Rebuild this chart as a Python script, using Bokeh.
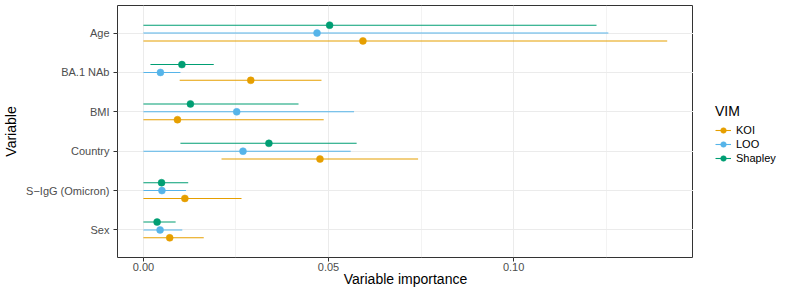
from bokeh.plotting import figure
from bokeh.layouts import row
from bokeh.models import (ColumnDataSource, FactorRange, Range1d, FixedTicker,
                          PrintfTickFormatter, Legend, LegendItem)
from bokeh.transform import dodge
from bokeh.embed import file_html
from bokeh.resources import INLINE

# ---- data ----
variables = ["Age", "BA.1 NAb", "BMI", "Country", "S\u2212IgG (Omicron)", "Sex"]

koi_est = [0.0593, 0.0290, 0.0092, 0.0477, 0.0112, 0.0071]
koi_lo = [0.0000, 0.0098, 0.0000, 0.0211, 0.0000, 0.0000]
koi_hi = [0.1415, 0.0481, 0.0487, 0.0742, 0.0265, 0.0163]

loo_est = [0.0469, 0.0046, 0.0252, 0.0269, 0.0050, 0.0045]
loo_lo = [0.0000, 0.0000, 0.0000, 0.0000, 0.0000, 0.0000]
loo_hi = [0.1256, 0.0100, 0.0569, 0.0560, 0.0115, 0.0105]

shap_est = [0.0503, 0.0104, 0.0127, 0.0339, 0.0049, 0.0037]
shap_lo = [0.0000, 0.0019, 0.0000, 0.0100, 0.0000, 0.0000]
shap_hi = [0.1224, 0.0190, 0.0419, 0.0576, 0.0121, 0.0087]

x_ticks = [0.0, 0.05, 0.10]
x_minor = [0.025, 0.075, 0.125]

series = [
    ("KOI", "#E69F00", koi_est, koi_lo, koi_hi, -0.2),
    ("LOO", "#56B4E9", loo_est, loo_lo, loo_hi, 0.0),
    ("Shapley", "#009E73", shap_est, shap_lo, shap_hi, 0.2),
]

FONT = "Liberation Sans"
H = 289

y_range = FactorRange(factors=list(reversed(variables)),
                      range_padding=0.2, range_padding_units="absolute")

p = figure(width=693, height=H, y_range=y_range, x_range=Range1d(-0.0070, 0.1486),
           output_backend="svg", toolbar_location=None,
           min_border_left=117, min_border_right=0,
           min_border_top=5, min_border_bottom=30)

p.background_fill_color = "white"
p.border_fill_color = "white"
p.outline_line_color = "#333333"
p.outline_line_width = 1

p.xaxis.ticker = FixedTicker(ticks=x_ticks, minor_ticks=x_minor)
p.xaxis.formatter = PrintfTickFormatter(format="%.2f")

for ax in (p.xaxis[0], p.yaxis[0]):
    ax.axis_line_color = None
    ax.major_tick_line_color = "#333333"
    ax.major_tick_out = 4
    ax.major_tick_in = 0
    ax.minor_tick_line_color = None
    ax.major_label_text_font = FONT
    ax.major_label_text_font_size = "11px"
    ax.major_label_text_color = "#4D4D4D"
    ax.major_label_text_line_height = 1.0
    ax.axis_label_text_font = FONT
    ax.axis_label_text_font_size = "14px"
    ax.axis_label_text_font_style = "normal"
    ax.axis_label_text_color = "black"
    ax.axis_label_text_line_height = 1.0

p.xaxis.major_label_standoff = 1
p.xaxis.axis_label_standoff = -3
p.yaxis.major_label_standoff = 4
p.yaxis.axis_label_standoff = 4

p.xaxis.axis_label = "Variable importance"
p.yaxis.axis_label = "Variable"

p.xgrid.grid_line_color = "#EBEBEB"
p.xgrid.grid_line_width = 1
p.xgrid.minor_grid_line_color = "#EBEBEB"
p.xgrid.minor_grid_line_width = 0.6
p.ygrid.grid_line_color = "#EBEBEB"
p.ygrid.grid_line_width = 1

# legend lives in a small companion figure to the right of the panel
q = figure(width=84, height=H, output_backend="svg", toolbar_location=None,
           x_axis_type=None, y_axis_type=None, min_border=0,
           x_range=Range1d(0, 1), y_range=Range1d(0, 1))
q.outline_line_color = None
q.background_fill_color = "white"
q.border_fill_color = "white"
q.grid.visible = False

items = []
for name, color, est, lo, hi, off in series:
    src = ColumnDataSource(dict(var=variables, est=est, lo=lo, hi=hi))
    yy = dodge("var", off, range=p.y_range)
    p.segment(x0="lo", x1="hi", y0=yy, y1=yy, source=src,
              line_color=color, line_width=1.1)
    p.scatter(x="est", y=yy, source=src, size=7, marker="circle",
              fill_color=color, line_color=color, line_width=0.5)
    # key glyphs only: one point placed outside the legend figure's view
    key_src = ColumnDataSource(dict(x0=[5.0], x1=[6.0], y=[5.0]))
    ks = q.segment(x0="x0", x1="x1", y0="y", y1="y", source=key_src,
                   line_color=color, line_width=1.1)
    kp = q.scatter(x="x0", y="y", source=key_src, size=7, marker="circle",
                   fill_color=color, line_color=color, line_width=0.5)
    items.append(LegendItem(label=name, renderers=[ks, kp]))

legend = Legend(items=items, location=(22, 92), title="VIM",
                title_text_font=FONT, title_text_font_size="14px",
                title_text_font_style="normal", title_text_color="black",
                title_standoff=4,
                label_text_font=FONT, label_text_font_size="11px",
                label_text_color="black",
                glyph_width=16, glyph_height=14, label_height=14,
                label_standoff=5, spacing=0, padding=0, margin=0,
                border_line_color=None, background_fill_alpha=0)
q.add_layout(legend, "center")

layout = row(p, q, spacing=0)
open("out.html", "w").write(file_html(layout, INLINE))
